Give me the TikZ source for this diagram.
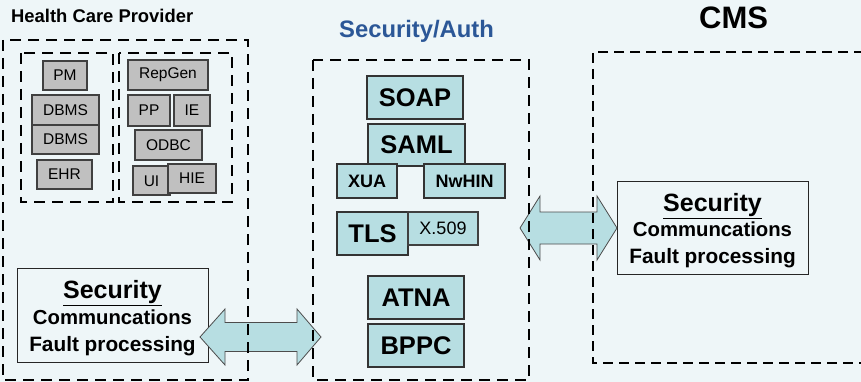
\documentclass[tikz,border=0pt]{standalone}
\usepackage{fontspec}
\setmainfont{Liberation Sans}
\usetikzlibrary{calc}
\definecolor{bgc}{RGB}{238,246,248}
\definecolor{tealc}{RGB}{183,222,226}
\definecolor{grayc}{RGB}{192,192,192}
\definecolor{bluet}{RGB}{43,87,151}
\begin{document}
\begin{tikzpicture}[x=1pt,y=-1pt,
  gbox/.style={draw=black!75,line width=1.2pt,fill=grayc,inner sep=0pt,font=\fontsize{15.5}{18}\selectfont},
  tbox/.style={draw=black!80,line width=1.2pt,fill=tealc,inner sep=0pt,font=\fontsize{25.5}{28}\selectfont\bfseries},
  sbox/.style={draw=black!80,line width=1.2pt,fill=tealc,inner sep=0pt,font=\fontsize{18}{20}\selectfont\bfseries},
  secbox/.style={draw=black!85,line width=1pt,inner sep=0pt,minimum width=191pt,minimum height=94pt},
  dbox/.style={draw=black,line width=2.8pt,dash pattern=on 11pt off 7pt},
  dboxthin/.style={draw=black,line width=2pt,dash pattern=on 10pt off 6pt},
  bigarrow/.style={draw=black!70,line width=0.8pt,fill=tealc},
  title/.style={anchor=base west,inner sep=0pt,font=\bfseries}
]
\fill[bgc] (0,0) rectangle (861,382);
\useasboundingbox (0,0) rectangle (861,382);

% titles
\node[title,font=\fontsize{18.4}{20}\selectfont\bfseries] (thcp) at (11,22.7) {Health Care Provider};
\node[title,font=\fontsize{23.8}{26}\selectfont\bfseries,text=bluet] (tsec) at (339,37.3) {Security/Auth};
\node[title,font=\fontsize{31}{32}\selectfont\bfseries] (tcms) at (699,29) {CMS};

% gray boxes
\node[gbox,minimum width=44pt,minimum height=29pt] (pm) at (65,75.5) {PM};
\node[gbox,minimum width=67pt,minimum height=30pt] (db1) at (65.5,110) {DBMS};
\node[gbox,minimum width=67pt,minimum height=29pt] (db2) at (65.5,139.5) {DBMS};
\node[gbox,minimum width=55pt,minimum height=29pt] (ehr) at (64.5,174.5) {EHR};
\node[gbox,minimum width=80pt,minimum height=30pt] (repgen) at (168,75) {RepGen};
\node[gbox,minimum width=42pt,minimum height=31pt] (pp) at (149,110.5) {PP};
\node[gbox,minimum width=36pt,minimum height=31pt] (ie) at (192,110.5) {IE};
\node[gbox,minimum width=67pt,minimum height=30pt] (odbc) at (168.5,145) {ODBC};
\node[gbox,minimum width=37pt,minimum height=29pt,text depth=0pt] (ui) at (151.5,180.5) {\raisebox{-2pt}{UI}};
\node[gbox,minimum width=48pt,minimum height=29pt] (hie) at (192,178.5) {HIE};

% teal boxes
\node[tbox,minimum width=96pt,minimum height=43pt] (soap) at (415,97.5) {SOAP};
\node[tbox,minimum width=97pt,minimum height=42pt] (saml) at (416.5,145) {SAML};
\node[sbox,minimum width=60pt,minimum height=34pt] (xua) at (367,181) {XUA};
\node[sbox,minimum width=81pt,minimum height=34pt] (nwhin) at (464.5,181) {NwHIN};
\node[tbox,minimum width=71pt,minimum height=43pt] (tls) at (372.5,233.5) {TLS};
\node[gbox,fill=tealc,font=\fontsize{18}{20}\selectfont,minimum width=70pt,minimum height=33pt] (x509) at (443,228.5) {X.509};
\node[tbox,minimum width=96pt,minimum height=43pt] (atna) at (416,297.5) {ATNA};
\node[tbox,minimum width=96pt,minimum height=43pt] (bppc) at (416,345.5) {BPPC};

% security boxes
\node[secbox] (hsec) at (112.5,315) {};
\node[anchor=base,inner sep=0pt,font=\fontsize{25}{27}\selectfont\bfseries] (hsec1) at ($(hsec.north)+(0,31)$) {\underline{Security}};
\node[anchor=base,inner sep=0pt,font=\fontsize{20.3}{22}\selectfont\bfseries] (hsec2) at ($(hsec.north)+(0,57)$) {Communcations};
\node[anchor=base,inner sep=0pt,font=\fontsize{20.8}{22}\selectfont\bfseries] (hsec3) at ($(hsec.north)+(0,84)$) {Fault processing};

\node[secbox,minimum height=93pt] (csec) at (712.5,227.5) {};
\node[anchor=base,inner sep=0pt,font=\fontsize{25}{27}\selectfont\bfseries] (csec1) at ($(csec.north)+(0,31)$) {\underline{Security}};
\node[anchor=base,inner sep=0pt,font=\fontsize{20.3}{22}\selectfont\bfseries] (csec2) at ($(csec.north)+(0,56)$) {Communcations};
\node[anchor=base,inner sep=0pt,font=\fontsize{20.8}{22}\selectfont\bfseries] (csec3) at ($(csec.north)+(0,83)$) {Fault processing};

% double arrows
\draw[bigarrow] (200,337) -- (225,309) -- (225,322.5) -- (297,322.5) -- (297,309) -- (321,337)
  -- (297,365) -- (297,351.5) -- (225,351.5) -- (225,365) -- cycle;
\draw[bigarrow] (520,228) -- (540,196) -- (540,212) -- (597,212) -- (597,196) -- (617,228)
  -- (597,260) -- (597,244) -- (540,244) -- (540,260) -- cycle;

% dashed containers
\draw[dbox] (3,40) rectangle (248,380);
\draw[dbox] (21,53) rectangle (113,202);
\draw[dbox] (119,53) rectangle (232,202);
\draw[dbox] (313,60) rectangle (529,380);
\draw[dboxthin] (880,52) -- (593,52) -- (593,363) -- (880,363);
\end{tikzpicture}
\end{document}
